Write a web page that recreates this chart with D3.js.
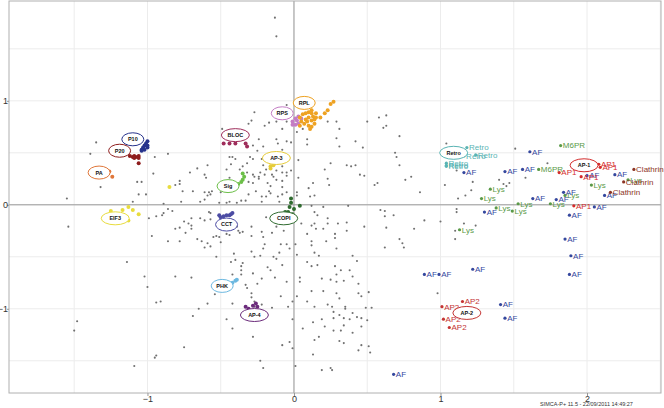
<!DOCTYPE html>
<html>
<head>
<meta charset="utf-8">
<script src="https://cdn.jsdelivr.net/npm/d3@7"></script>
<style>
  body { margin: 0; background: #fff; }
  svg { font-family: "Liberation Sans", Arial, sans-serif; }
</style>
</head>
<body>
<svg id="chart" width="664" height="408"></svg>
<script>
// score plot t[1] / t[2], SIMCA-P+ style
var xTicks = [-1, 0, 1, 2];
var yTicks = [-1, 0, 1];
var gridStep = 0.5;

var grayPts = [
  [-0.13,1.80],[-0.12,1.62],[-1.35,0.60],[-1.39,0.49],[-0.95,0.46],[-0.86,0.49],[-0.96,0.30],[-1.32,0.17],
  [-1.07,0.22],[-1.04,0.22],[-1.06,0.10],[-1.01,0.10],[-1.55,0.06],[-0.89,0.01],[-1.10,0.03],[-0.27,0.89],
  [-0.29,0.81],[-0.31,0.78],[-0.49,0.73],[-0.20,0.76],[-0.17,0.79],[-0.12,0.80],[-0.05,0.96],[-0.08,0.73],
  [-0.05,0.80],[0.02,0.70],[0.06,0.73],[0.09,0.63],[0.09,0.58],[0.23,0.80],[0.29,0.80],[0.31,0.73],
  [0.50,0.80],[0.29,0.64],[0.31,0.56],[0.42,0.61],[0.47,0.55],[0.58,0.84],[0.63,0.86],[0.61,0.74],
  [0.63,0.76],[0.72,0.66],[0.69,0.50],[0.70,0.46],[0.72,0.38],[0.36,0.38],[0.39,0.37],[0.42,0.38],
  [0.45,0.29],[0.48,0.28],[0.55,0.19],[0.57,0.21],[0.76,0.24],[0.80,0.27],[0.86,0.12],[1.04,0.59],
  [1.01,0.52],[1.11,0.33],[1.03,0.19],[1.12,0.06],[1.17,0.09],[1.21,0.14],[1.22,0.22],[1.40,0.24],
  [1.43,0.20],[1.45,0.18],[1.47,0.21],[1.51,0.54],[1.58,0.26],[1.73,0.40],[1.11,-0.04],[1.11,-0.07],
  [-0.24,0.63],[-0.28,0.57],[-0.25,0.52],[-0.21,0.56],[-0.12,0.63],[-0.11,0.59],[-0.02,0.60],[-0.05,0.61],
  [-0.08,0.53],[-0.30,0.46],[-0.28,0.44],[-0.22,0.44],[0.03,0.43],[-0.21,0.38],[-0.19,0.34],[-0.08,0.37],
  [-0.12,0.33],[-0.08,0.31],[-0.02,0.33],[-0.05,0.31],[-0.28,0.29],[-0.27,0.27],[-0.24,0.27],[-0.24,0.25],
  [-0.20,0.29],[-0.15,0.29],[-0.14,0.27],[-0.12,0.24],[-0.16,0.18],[-0.05,0.28],[-0.08,0.23],[0.03,0.26],
  [0.21,0.34],[0.25,0.40],[0.13,0.21],[0.10,0.16],[0.24,0.19],[-0.28,0.21],[-0.26,0.13],[-0.22,0.08],
  [-0.17,0.13],[-0.16,0.11],[-0.11,0.08],[-0.08,0.10],[0.02,0.12],[0.02,0.09],[0.14,0.09],[0.11,0.08],
  [0.12,-0.01],[0.20,-0.02],[0.37,-0.01],[-0.44,0.46],[-0.40,0.44],[-0.42,0.46],[-0.43,0.39],[-0.32,0.40],
  [-0.35,0.37],[-0.37,0.34],[-0.46,0.34],[-0.44,0.26],[-0.59,0.38],[-0.71,0.31],[-0.61,0.29],[-0.60,0.26],
  [-0.66,0.35],[-0.78,0.23],[-0.78,0.20],[-0.81,0.19],[-0.76,0.13],[-0.69,0.13],[-0.61,0.12],[-0.58,0.12],
  [-0.56,0.13],[-0.50,0.12],[-0.46,0.19],[-0.32,0.31],[-0.31,0.22],[-0.23,0.31],[-0.18,0.21],[-0.08,0.17],
  [-0.05,0.12],[-0.31,0.10],[-0.44,0.03],[-0.39,0.02],[-0.36,0.04],[-0.51,0.02],[-0.57,0.10],[-0.59,0.09],
  [-0.46,0.13],[-0.61,0.05],[-0.64,0.03],[-0.77,0.03],[-0.46,0.02],[-0.33,0.04],[-0.22,0.03],[-0.10,0.03],
  [-0.19,0.08],[0.23,0.25],
  [-1.54,-0.21],[-1.14,-0.55],[-1.02,-0.69],[-1.00,-0.79],[-0.94,-0.94],[-0.91,-0.93],[-1.48,-1.12],[-1.50,-1.21],
  [-1.09,-1.55],[-0.94,-1.45],[-0.95,-1.47],[-0.75,-1.37],[-0.99,-0.13],[-0.94,-0.11],[-0.90,-0.10],[-0.89,-0.08],
  [-0.86,-0.04],[-0.83,-0.06],[-0.70,-0.13],[-0.75,-0.16],[-0.72,-0.18],[-0.70,-0.20],[-0.70,-0.23],[-0.64,-0.13],
  [-0.61,-0.15],[-0.58,-0.07],[-0.57,-0.08],[-0.57,-0.14],[-0.81,-0.23],[-0.78,-0.22],[-0.74,-0.27],[-0.97,-0.30],
  [-0.86,-0.35],[-0.78,-0.35],[-0.66,-0.33],[-0.63,-0.35],[-0.59,-0.37],[-0.55,-0.31],[-0.53,-0.30],[-0.51,-0.31],
  [-0.50,-0.36],[-0.61,-0.41],[-0.57,-0.40],[-0.46,-0.28],[-0.44,-0.29],[-0.39,-0.21],[-0.38,-0.25],[-0.37,-0.27],
  [-0.35,-0.26],[-0.53,-0.50],[-0.41,-0.47],[-0.43,-0.55],[-0.40,-0.53],[-0.36,-0.59],[-0.35,-0.56],[-0.36,-0.63],
  [-0.36,-0.67],[-0.42,-0.67],[-0.40,-0.73],[-0.81,-0.69],[-0.70,-0.70],[-0.54,-0.86],[-0.33,-0.77],[-0.32,-0.80],
  [-0.65,-1.00],[-0.59,-0.95],[-0.46,-1.10],[-0.69,-1.07],[-0.42,-0.95],[-0.42,-1.19],[-0.28,-1.27],[-0.21,-1.57],
  [-0.23,-1.50],[-0.15,-0.99],[-0.08,-1.35],[-0.01,-1.38],[-0.01,-1.10],[0.01,-1.55],[0.13,-1.44],[0.19,-1.59],
  [0.25,-1.57],[0.06,-1.19],[0.13,-1.13],[0.19,-1.10],[0.21,-1.17],[0.17,-1.27],[0.14,-1.30],[-0.19,-0.12],
  [-0.12,-0.21],[-0.15,-0.27],[-0.07,-0.25],[-0.29,-0.21],[-0.22,-0.26],[-0.21,-0.31],[-0.29,-0.30],[0.05,-0.18],
  [0.12,-0.20],[0.14,-0.18],[0.14,-0.07],[0.16,-0.10],[0.23,-0.13],[0.23,-0.18],[0.30,-0.18],[0.36,-0.17],
  [0.36,-0.25],[0.48,-0.21],[0.09,-0.28],[0.15,-0.23],[0.20,-0.23],[0.28,-0.28],[0.28,-0.32],[0.12,-0.35],
  [0.12,-0.39],[0.22,-0.35],[-0.09,-0.38],[-0.05,-0.38],[-0.20,-0.38],[-0.21,-0.42],[-0.03,-0.42],[0.01,-0.38],
  [-0.29,-0.45],[-0.27,-0.50],[-0.23,-0.49],[-0.14,-0.50],[-0.12,-0.52],[-0.10,-0.46],[0.02,-0.48],[0.14,-0.46],
  [0.17,-0.49],[0.29,-0.42],[0.40,-0.49],[0.43,-0.54],[0.09,-0.55],[0.12,-0.59],[0.16,-0.58],[-0.18,-0.60],
  [-0.16,-0.63],[-0.08,-0.58],[0.32,-0.63],[0.38,-0.63],[0.40,-0.69],[0.19,-0.71],[0.25,-0.72],[-0.28,-0.66],
  [-0.25,-0.76],[-0.22,-0.71],[-0.13,-0.70],[-0.05,-0.74],[0.04,-0.74],[0.04,-0.70],[0.29,-0.74],[0.34,-0.73],
  [0.44,-0.85],[0.51,-0.84],[-0.29,-0.85],[-0.29,-0.89],[-0.09,-0.88],[0.02,-0.88],[0.12,-0.83],[0.20,-0.83],
  [0.29,-0.85],[0.31,-0.90],[-0.27,-0.93],[-0.27,-0.98],[-0.22,-0.96],[-0.04,-0.98],[-0.01,-0.93],[0.09,-0.93],
  [0.14,-0.98],[0.23,-0.96],[0.26,-0.98],[0.35,-0.98],[0.35,-1.00],[0.27,-1.03],[0.27,-1.09],[0.31,-1.06],
  [0.34,-1.09],[0.38,-1.10],[0.40,-1.04],[0.43,-1.08],[0.46,-1.09],[0.49,-0.99],[0.27,-1.21],[0.32,-1.21],
  [0.40,-1.23],[0.31,-1.31],[0.34,-1.33],[-0.03,-1.32],[0.51,-1.36],[0.59,-0.05],[0.62,-0.06],[0.62,-0.11],
  [0.68,-0.10],[0.89,-0.15],[0.82,-0.23],[0.63,-0.22],[1.00,-0.16],[1.10,-0.25],[1.16,-0.18],[1.24,-0.20],
  [1.10,-0.33],[0.72,-0.33],[0.74,-0.37],[0.75,-0.41],[0.62,-0.41],[0.28,-0.59],[0.29,-0.67],[0.44,-0.76],
  [0.46,-0.88],[0.50,-1.11],[0.53,-0.99],[0.34,-1.16],[0.46,-1.17],[0.46,-1.35],[0.44,-1.40],[0.52,-1.42],
  [0.26,-1.59],[0.98,-0.85]
];

// complexes marked only by a circled name
var p10 = [[-1.00,0.61],[-1.02,0.57],[-1.03,0.55],[-1.04,0.53],[-1.02,0.53],[-1.00,0.55],[-1.00,0.57],[-1.01,0.59],[-1.04,0.52]];
var p20 = [[-1.12,0.47],[-1.10,0.46],[-1.09,0.47],[-1.07,0.46],[-1.06,0.47],[-1.09,0.45],[-1.06,0.45],[-1.06,0.40]];
var pa = [[-1.26,0.32],[-1.24,0.27]];
var bloc = [[-0.48,0.59],[-0.44,0.59],[-0.40,0.59],[-0.33,0.59],[-0.32,0.56]];
var ap3 = [[-0.19,0.45],[-0.16,0.37],[-0.16,0.35],[-0.14,0.38]];
var sig = [[-0.35,0.30],[-0.34,0.27],[-0.35,0.24],[-0.36,0.22],[-0.38,0.20],[-0.40,0.18],[-0.42,0.16]];
var rps = [[-0.01,0.80],[0.01,0.83],[0.02,0.81],[0.03,0.78],[0.01,0.77],[0.05,0.83],[-0.01,0.77],[0.03,0.85]];
var rpl = [[0.04,0.84],[0.06,0.87],[0.08,0.88],[0.10,0.89],[0.12,0.88],[0.13,0.85],[0.10,0.84],[0.08,0.82],
  [0.05,0.80],[0.09,0.80],[0.12,0.81],[0.14,0.82],[0.15,0.84],[0.07,0.78],[0.10,0.76],[0.12,0.75],[0.11,0.73],
  [0.15,0.88],[0.12,0.91],[0.04,0.76],[0.14,0.78],[0.18,0.84],[0.21,0.88],[0.23,0.91],[0.25,0.97],[0.27,0.99]];
var eif3 = [[-1.25,-0.06],[-1.17,-0.05],[-1.13,-0.02],[-1.10,-0.05],[-1.06,-0.09],[-1.14,-0.12],[-1.13,-0.15],[-0.85,0.17]];
var cct = [[-0.50,-0.12],[-0.48,-0.11],[-0.46,-0.10],[-0.44,-0.10],[-0.43,-0.09],[-0.42,-0.08],[-0.51,-0.10]];
var copi = [[-0.02,0.02],[-0.03,-0.02],[0.00,-0.04],[0.04,-0.01],[-0.06,-0.07],[-0.04,-0.07],[-0.01,-0.09],[-0.02,0.06]];
var phk = [[-0.42,-0.75],[-0.40,-0.73],[-0.39,-0.72]];
var ap4 = [[-0.33,-0.98],[-0.31,-1.00],[-0.28,-0.97],[-0.26,-0.95],[-0.25,-0.98]];

// points carrying their own text label
var retroPts = [[1.18,0.55],[1.16,0.47],[1.24,0.48],[1.04,0.40],[1.04,0.38],[1.04,0.37]];
var afPts = [[1.61,0.51],[1.16,0.31],[1.44,0.32],[1.56,0.34],[2.00,0.28],[2.19,0.29],[1.84,0.12],[2.12,0.09],
  [1.63,0.06],[1.79,0.05],[2.05,-0.02],[1.30,-0.07],[1.88,-0.10],[1.85,-0.33],[1.89,-0.49],[1.88,-0.67],
  [0.89,-0.67],[0.99,-0.67],[1.22,-0.62],[1.41,-0.96],[1.44,-1.09],[0.68,-1.63]];
var m6prPts = [[1.82,0.57],[1.67,0.34]];
var lysPts = [[1.34,0.15],[1.28,0.06],[1.38,-0.03],[1.49,-0.06],[1.53,0.01],[1.75,0.01],[1.85,0.09],[2.03,0.19],[2.28,0.24],[1.13,-0.24]];
var ap1Pts = [[1.81,0.31],[2.08,0.39],[2.09,0.36],[1.96,0.27],[1.91,-0.01]];
var clathrinPts = [[2.32,0.34],[2.25,0.22],[2.16,0.12]];
var ap2Pts = [[1.01,-0.98],[1.15,-0.93],[1.02,-1.10],[1.06,-1.18]];

// circled complex names, anchored in score units
var circleNames = ['P10', 'P20', 'PA', 'BLOC', 'AP-3', 'Sig', 'RPL', 'RPS', 'EIF3', 'CCT', 'COPI', 'PHK', 'AP-4', 'Retro', 'AP-1', 'AP-2'];
var circleX = [-1.10, -1.19, -1.33, -0.40, -0.12, -0.45, 0.07, -0.08, -1.22, -0.46, -0.07, -0.49, -0.27, 1.09, 1.98, 1.18];
var circleY = [0.63, 0.52, 0.31, 0.67, 0.45, 0.18, 0.98, 0.88, -0.13, -0.19, -0.13, -0.78, -1.06, 0.50, 0.38, -1.04];

var COLORS = {
  'P10': '#27338c', 'P20': '#8e1d1d', 'PA': '#e0773a', 'BLOC': '#9e2c5a', 'AP-3': '#e6cc3a',
  'Sig': '#6cbf48', 'RPL': '#eea222', 'RPS': '#c47cc4', 'EIF3': '#e8dc3e', 'CCT': '#4b4ba3',
  'COPI': '#2f6b2f', 'PHK': '#6cb8e0', 'AP-4': '#6b2b7b', 'Retro': '#5ab4b4', 'AP-1': '#d42c2c',
  'AP-2': '#c43434', 'AF': '#34479e', 'Lys': '#5a9a48', 'M6PR': '#5a9a48', 'Clathrin': '#8c3526'
};

var LEFT = 9, RIGHT = 661, TOP = 1, BOTTOM = 393;
var svg = d3.select('#chart');

var x = d3.scaleLinear().domain([-1.945, 2.505]).range([LEFT, RIGHT]);
var y = d3.scaleLinear().domain([-1.81, 1.96]).range([BOTTOM, TOP]);

// grid every 0.5
var gx = d3.range(Math.ceil(x.domain()[0] / gridStep) * gridStep, x.domain()[1], gridStep);
var gy = d3.range(Math.ceil(y.domain()[0] / gridStep) * gridStep, y.domain()[1], gridStep);
svg.append('g').selectAll('line').data(gx).enter().append('line')
    .attr('x1', x).attr('x2', x).attr('y1', TOP).attr('y2', BOTTOM)
    .attr('stroke', '#ececec').attr('stroke-width', 1);
svg.append('g').selectAll('line').data(gy).enter().append('line')
    .attr('y1', y).attr('y2', y).attr('x1', LEFT).attr('x2', RIGHT)
    .attr('stroke', '#ececec').attr('stroke-width', 1);

// zero lines
svg.append('line').attr('x1', x(0)).attr('x2', x(0)).attr('y1', TOP).attr('y2', BOTTOM)
    .attr('stroke', '#9a9a9a').attr('stroke-width', 1);
svg.append('line').attr('y1', y(0)).attr('y2', y(0)).attr('x1', LEFT).attr('x2', RIGHT)
    .attr('stroke', '#9a9a9a').attr('stroke-width', 1);

// frame
svg.append('rect').attr('x', LEFT).attr('y', TOP).attr('width', RIGHT - LEFT).attr('height', BOTTOM - TOP)
    .attr('fill', 'none').attr('stroke', '#b0b0b0').attr('stroke-width', 1);

// axes
var xAxis = svg.append('g').attr('transform', 'translate(0,' + BOTTOM + ')')
    .call(d3.axisBottom(x).tickValues(xTicks).tickSize(3).tickPadding(1).tickFormat(d3.format('d')));
var yAxis = svg.append('g').attr('transform', 'translate(' + LEFT + ',0)')
    .call(d3.axisLeft(y).tickValues(yTicks).tickSize(2).tickPadding(1).tickFormat(d3.format('d')));
[xAxis, yAxis].forEach(function (a) {
    a.select('.domain').remove();
    a.selectAll('line').attr('stroke', '#999');
    a.selectAll('text').attr('font-size', 9).attr('fill', '#333')
        .attr('font-family', '"Liberation Sans", Arial, sans-serif');
});
xAxis.selectAll('text').attr('dy', '0.6em');
yAxis.selectAll('text').attr('x', -1);

// gray observations
svg.append('g').selectAll('circle').data(grayPts).enter().append('circle')
    .attr('cx', function (d) { return x(d[0]); })
    .attr('cy', function (d) { return y(d[1]); })
    .attr('r', 1.05).attr('fill', '#707070');

// coloured complexes
var clusters = [
    ['P10', p10], ['P20', p20], ['PA', pa], ['BLOC', bloc], ['AP-3', ap3], ['Sig', sig],
    ['RPS', rps], ['RPL', rpl], ['EIF3', eif3], ['CCT', cct], ['COPI', copi], ['PHK', phk], ['AP-4', ap4]
];
clusters.forEach(function (c) {
    svg.append('g').selectAll('circle').data(c[1]).enter().append('circle')
        .attr('cx', function (d) { return x(d[0]); })
        .attr('cy', function (d) { return y(d[1]); })
        .attr('r', 2).attr('fill', COLORS[c[0]]);
});

// labelled observations
var labelled = [
    ['Retro', retroPts, COLORS['Retro']], ['M6PR', m6prPts, COLORS['M6PR']], ['Lys', lysPts, COLORS['Lys']],
    ['AF', afPts, COLORS['AF']], ['Clathrin', clathrinPts, COLORS['Clathrin']],
    ['AP1', ap1Pts, COLORS['AP-1']], ['AP2', ap2Pts, COLORS['AP-2']]
];
labelled.forEach(function (s) {
    var g = svg.append('g');
    var pts = g.selectAll('g').data(s[1]).enter().append('g')
        .attr('transform', function (d) { return 'translate(' + x(d[0]) + ',' + y(d[1]) + ')'; });
    pts.append('circle').attr('r', 1.6).attr('fill', s[2]);
    pts.append('text').attr('x', 2.2).attr('dy', '0.35em')
        .attr('font-size', 8).attr('fill', s[2]).text(s[0]);
});

// circled names
var names = svg.append('g').selectAll('g').data(circleNames).enter().append('g')
    .attr('transform', function (d, i) { return 'translate(' + x(circleX[i]) + ',' + y(circleY[i]) + ')'; });
names.append('ellipse')
    .attr('rx', function (d) { return d.length > 3 ? 14 : 11; })
    .attr('ry', 6.5)
    .attr('fill', 'white').attr('stroke', function (d) { return COLORS[d]; }).attr('stroke-width', 1);
names.append('text').attr('text-anchor', 'middle').attr('dy', '0.35em')
    .attr('font-size', 5.5).attr('font-weight', 'bold').attr('fill', '#111').text(function (d) { return d; });

// footer
svg.append('text').attr('x', 540).attr('y', 406).attr('font-size', 5.5).attr('fill', '#333')
    .text('SIMCA-P+ 11.5 - 22/09/2011 14:49:27');
</script>
</body>
</html>
